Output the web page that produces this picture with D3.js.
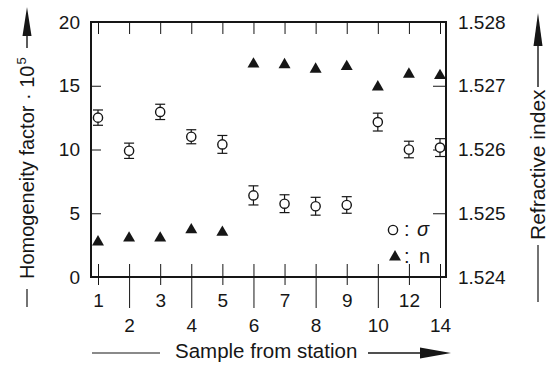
<!DOCTYPE html>
<html>
<head>
<meta charset="utf-8">
<script src="https://cdn.jsdelivr.net/npm/d3@7"></script>
<style>
  body { margin: 0; background: #fff; }
  svg { display: block; font-family: "Liberation Sans", Arial, sans-serif; }
</style>
</head>
<body>
<div id="chart"></div>
<script>
const stations = ["1", "2", "3", "4", "5", "6", "7", "8", "9", "10", "12", "14"];
const sigma = [12.5, 9.9, 12.95, 11.0, 10.4, 6.4, 5.75, 5.55, 5.65, 12.15, 10.0, 10.15];
const sigmaErr = [0.6, 0.6, 0.6, 0.55, 0.7, 0.75, 0.7, 0.7, 0.65, 0.7, 0.65, 0.7];
const refIndex = [1.52455, 1.52461, 1.52461, 1.52474, 1.5247, 1.52734, 1.52733, 1.52726, 1.5273, 1.52698, 1.52718, 1.52716];
const leftTicks = [0, 5, 10, 15, 20];
const rightTicks = [1.524, 1.525, 1.526, 1.527, 1.528];

const width = 552, height = 365;
const ink = "#161616";
const box = { left: 91, right: 446, top: 22, bottom: 277 };

const x = d3.scalePoint().domain(stations).range([98, 440]);
const yL = d3.scaleLinear().domain([0, 20]).range([box.bottom, box.top]);
const yR = d3.scaleLinear().domain([1.524, 1.528]).range([box.bottom, box.top]);

const svg = d3.select("#chart").append("svg")
  .attr("width", width)
  .attr("height", height);

// frame
svg.append("rect")
  .attr("x", box.left).attr("y", box.top)
  .attr("width", box.right - box.left).attr("height", box.bottom - box.top)
  .attr("fill", "none").attr("stroke", ink).attr("stroke-width", 2);

// left axis, ticks inside
svg.append("g")
  .attr("transform", `translate(${box.left},0)`)
  .call(d3.axisLeft(yL).tickValues(leftTicks).tickSize(-10).tickPadding(11).tickFormat(d3.format("d")))
  .call(g => g.select(".domain").remove())
  .call(g => g.selectAll(".tick line").attr("stroke", ink))
  .call(g => g.selectAll(".tick text").attr("font-size", 19).attr("fill", ink).attr("font-family", null));

// right axis, ticks inside
svg.append("g")
  .attr("transform", `translate(${box.right},0)`)
  .call(d3.axisRight(yR).tickValues(rightTicks).tickSize(-13).tickPadding(12).tickFormat(d3.format(".3f")))
  .call(g => g.select(".domain").remove())
  .call(g => g.selectAll(".tick line").attr("stroke", ink))
  .call(g => g.selectAll(".tick text").attr("font-size", 19).attr("fill", ink).attr("font-family", null));

// top ticks
svg.append("g")
  .attr("transform", `translate(0,${box.top})`)
  .call(d3.axisTop(x).tickSize(-12).tickFormat(""))
  .call(g => g.select(".domain").remove())
  .call(g => g.selectAll(".tick line").attr("stroke", ink));

// bottom axis: ticks cross the frame, labels staggered
svg.append("g")
  .attr("transform", `translate(0,${box.bottom})`)
  .call(d3.axisBottom(x).tickSize(0))
  .call(g => g.select(".domain").remove())
  .call(g => g.selectAll(".tick line")
    .attr("stroke", ink)
    .attr("y1", -13)
    .attr("y2", (d, i) => i % 2 === 0 ? 8 : 31))
  .call(g => g.selectAll(".tick text")
    .attr("font-size", 19).attr("fill", ink).attr("font-family", null)
    .attr("dy", null)
    .attr("y", (d, i) => i % 2 === 0 ? 30 : 55));

// error bars for sigma
const errG = svg.append("g").attr("stroke", ink).attr("stroke-width", 1.2);
stations.forEach((s, i) => {
  const cx = x(s);
  const top = yL(sigma[i] + sigmaErr[i]);
  const bot = yL(sigma[i] - sigmaErr[i]);
  errG.append("line").attr("x1", cx).attr("x2", cx).attr("y1", top).attr("y2", bot);
  errG.append("line").attr("x1", cx - 5).attr("x2", cx + 5).attr("y1", top).attr("y2", top);
  errG.append("line").attr("x1", cx - 5).attr("x2", cx + 5).attr("y1", bot).attr("y2", bot);
});

// sigma circles
svg.append("g")
  .selectAll("circle")
  .data(stations)
  .join("circle")
  .attr("cx", d => x(d))
  .attr("cy", (d, i) => yL(sigma[i]))
  .attr("r", 4.6)
  .attr("fill", "#fff")
  .attr("stroke", ink)
  .attr("stroke-width", 1.4);

// refractive index triangles
const tri = d3.symbol(d3.symbolTriangle, 62);
svg.append("g")
  .selectAll("path")
  .data(stations)
  .join("path")
  .attr("d", tri)
  .attr("transform", (d, i) => `translate(${x(d)},${yR(refIndex[i])})`)
  .attr("fill", ink);

// legend
const lg = svg.append("g").attr("fill", ink).attr("font-size", 20);
lg.append("circle").attr("cx", 393).attr("cy", 230).attr("r", 4.6)
  .attr("fill", "#fff").attr("stroke", ink).attr("stroke-width", 1.4);
lg.append("text").attr("x", 404).attr("y", 236).text(":");
lg.append("text").attr("x", 417).attr("y", 236).attr("font-style", "italic").text("σ");
lg.append("path").attr("d", tri).attr("transform", "translate(395,257)");
lg.append("text").attr("x", 404).attr("y", 263).text(":");
lg.append("text").attr("x", 419).attr("y", 263).text("n");

// axis titles
const titleSize = 21;

// bottom
svg.append("text")
  .attr("x", 175).attr("y", 358)
  .attr("font-size", titleSize - 0.5).attr("fill", ink)
  .text("Sample from station");
svg.append("line").attr("x1", 92).attr("x2", 160).attr("y1", 353).attr("y2", 353)
  .attr("stroke", ink).attr("stroke-width", 1.2);
svg.append("line").attr("x1", 368).attr("x2", 425).attr("y1", 353).attr("y2", 353)
  .attr("stroke", ink).attr("stroke-width", 1.4);
svg.append("path").attr("d", "M420,347.5L451,353L420,358.5Z").attr("fill", ink);

// left
const lt = svg.append("text")
  .attr("transform", "translate(34,279) rotate(-90)")
  .attr("font-size", 20).attr("fill", ink);
lt.append("tspan").text("Homogeneity factor · 10");
lt.append("tspan").attr("font-size", 13).attr("dy", -8).attr("dx", 1).text("5");
svg.append("line").attr("x1", 27).attr("x2", 27).attr("y1", 289).attr("y2", 307)
  .attr("stroke", ink).attr("stroke-width", 1.2);
svg.append("line").attr("x1", 27).attr("x2", 27).attr("y1", 48).attr("y2", 30)
  .attr("stroke", ink).attr("stroke-width", 1.4);
svg.append("path").attr("d", "M22.5,36L27,7L31.5,36Z").attr("fill", ink);

// right
svg.append("text")
  .attr("transform", "translate(545,240) rotate(-90)")
  .attr("font-size", titleSize).attr("fill", ink)
  .text("Refractive index");
svg.append("line").attr("x1", 538).attr("x2", 538).attr("y1", 245).attr("y2", 302)
  .attr("stroke", ink).attr("stroke-width", 1.2);
svg.append("line").attr("x1", 538).attr("x2", 538).attr("y1", 87).attr("y2", 40)
  .attr("stroke", ink).attr("stroke-width", 1.4);
svg.append("path").attr("d", "M533.5,46L538,13L542.5,46Z").attr("fill", ink);
</script>
</body>
</html>
